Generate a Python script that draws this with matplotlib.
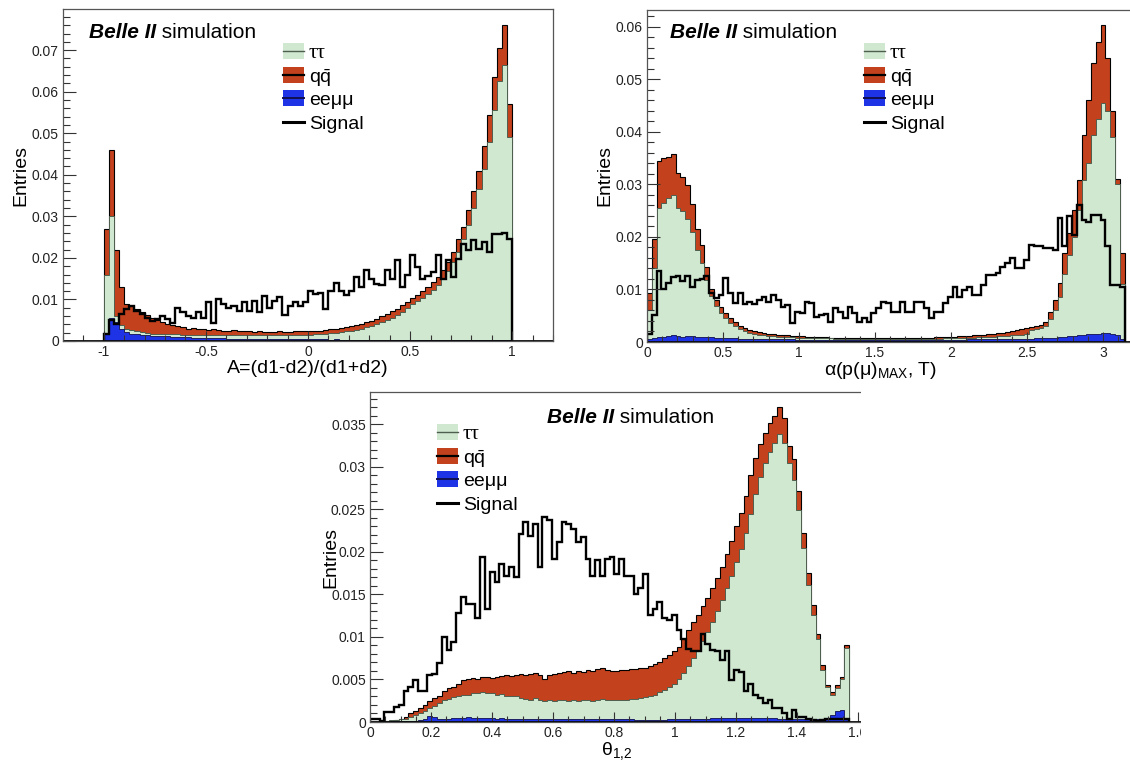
import numpy as np
import matplotlib.pyplot as plt
from matplotlib.patches import Rectangle
from matplotlib.lines import Line2D
from matplotlib.text import Annotation
from matplotlib.ticker import MultipleLocator, FuncFormatter

plt.rcParams['font.family'] = ['Liberation Sans', 'DejaVu Sans']
plt.rcParams['mathtext.fontset'] = 'custom'
plt.rcParams['mathtext.rm'] = 'Liberation Sans'
plt.rcParams['mathtext.it'] = 'Liberation Sans:italic'
plt.rcParams['mathtext.bf'] = 'Liberation Sans:bold'

W, H = 1130, 761

# ---- panel A: A=(d1-d2)/(d1+d2), 80 bins in [-1, 1], values in units of 1e-3 (stacked tops)
a_ee = np.array([2.0, 5.5, 4.5, 3.0, 2.2, 1.8, 1.6, 1.5, 1.4, 1.3,
                 1.2, 1.1, 1.1, 1.0, 1.0, 0.9, 0.9, 0.8, 0.8, 0.8,
                 0.8, 0.7, 0.7, 0.7, 0.6, 0.6, 0.6, 0.6, 0.6, 0.5,
                 0.5, 0.5, 0.5, 0.5, 0.5, 0.5, 0.4, 0.4, 0.4, 0.4,
                 0.4, 0.4, 0.4, 0.4, 0.3, 0.4, 0.3, 0.3, 0.3, 0.3,
                 0.3, 0.3, 0.3, 0.3, 0.3, 0.3, 0.3, 0.3, 0.3, 0.3,
                 0.3, 0.3, 0.3, 0.3, 0.3, 0.3, 0.3, 0.3, 0.3, 0.3,
                 0.3, 0.3, 0.3, 0.3, 0.3, 0.3, 0.3, 0.3, 0.3, 0.2])
a_tautau = np.array([16.0, 30.0, 6.0, 3.8, 3.0, 2.6, 2.3, 2.1, 1.9, 1.8,
                     1.7, 1.7, 1.6, 1.6, 1.6, 1.5, 1.5, 1.5, 1.5, 1.5,
                     1.5, 1.5, 1.5, 1.4, 1.4, 1.4, 1.4, 1.4, 1.4, 1.4,
                     1.4, 1.4, 1.4, 1.4, 1.4, 1.4, 1.4, 1.4, 1.5, 1.5,
                     1.5, 1.6, 1.7, 1.8, 1.9, 2.0, 2.1, 2.3, 2.5, 2.7,
                     3.0, 3.3, 3.6, 4.0, 4.5, 5.0, 5.6, 6.3, 7.0, 7.9,
                     8.8, 9.6, 10.4, 11.3, 12.3, 13.5, 15.0, 16.8, 19.0, 21.5,
                     24.5, 28.0, 32.0, 36.5, 41.5, 48.0, 55.5, 62.5, 66.5, 49.0])
a_total = np.array([27.0, 46.0, 22.0, 12.9, 9.0, 8.5, 7.7, 7.0, 6.2, 5.5,
                    5.0, 4.6, 4.2, 3.9, 3.6, 3.3, 3.0, 3.2, 2.8, 2.8,
                    2.6, 2.9, 2.6, 2.5, 2.4, 2.6, 2.4, 2.3, 2.3, 2.2,
                    2.3, 2.2, 2.2, 2.1, 2.3, 2.2, 2.2, 2.3, 2.4, 2.3,
                    2.4, 2.5, 2.5, 2.7, 2.8, 2.9, 3.1, 3.3, 3.5, 3.8,
                    4.1, 4.5, 4.9, 5.4, 5.9, 6.5, 7.1, 7.8, 8.6, 9.4,
                    10.3, 11.1, 12.0, 13.0, 14.1, 15.4, 17.0, 19.0, 21.5, 24.5,
                    27.5, 31.5, 36.0, 41.0, 47.0, 54.5, 63.5, 70.5, 76.0, 57.0])
a_signal = np.array([1.8, 5.0, 4.2, 6.5, 7.7, 8.5, 7.3, 6.5, 5.6, 4.8,
                     5.2, 6.0, 5.2, 4.4, 8.0, 6.9, 6.0, 5.6, 6.9, 5.6,
                     9.3, 4.4, 10.0, 9.0, 8.0, 8.5, 7.3, 9.3, 7.3, 9.7,
                     6.9, 10.9, 8.0, 9.7, 10.5, 6.2, 8.5, 9.3, 8.5, 9.3,
                     12.0, 11.3, 11.5, 7.7, 12.0, 14.0, 12.0, 11.0, 12.0, 15.3,
                     13.0, 17.0, 15.0, 13.7, 13.5, 17.0, 15.0, 19.4, 13.0, 16.0,
                     20.6, 17.7, 15.0, 15.7, 16.5, 20.6, 15.0, 19.4, 15.3, 19.8,
                     23.4, 21.8, 24.2, 22.2, 23.8, 21.4, 25.8, 25.8, 26.0, 24.6])

# ---- panel B: alpha(p(mu)_MAX, T), 100 bins in [0, pi]
b_ee = np.array([0.5, 0.7, 0.9, 1.0, 1.1, 1.3, 1.1, 1.0, 1.2, 1.1,
                 1.0, 1.0, 0.9, 0.9, 0.8, 0.8, 0.7, 0.7, 0.7, 0.6,
                 0.6, 0.6, 0.6, 0.5, 0.5, 0.5, 0.5, 0.5, 0.5, 0.5,
                 0.5, 0.4, 0.4, 0.4, 0.4, 0.4, 0.4, 0.4, 0.4, 0.4,
                 0.4, 0.4, 0.4, 0.4, 0.4, 0.4, 0.4, 0.4, 0.4, 0.4,
                 0.4, 0.4, 0.4, 0.4, 0.4, 0.4, 0.4, 0.4, 0.4, 0.4,
                 0.4, 0.4, 0.4, 0.4, 0.4, 0.4, 0.4, 0.5, 0.5, 0.5,
                 0.5, 0.5, 0.5, 0.5, 0.5, 0.5, 0.6, 0.6, 0.6, 0.6,
                 0.6, 0.7, 0.7, 0.7, 0.8, 0.8, 0.9, 1.0, 1.1, 1.2,
                 1.3, 1.4, 1.5, 1.6, 1.6, 1.7, 1.7, 1.6, 1.4, 0.6])
b_tautau = np.array([6.0, 14.0, 25.5, 26.5, 27.5, 28.0, 25.5, 25.0, 23.5, 21.0,
                     17.5, 15.0, 11.8, 8.8, 6.8, 5.5, 4.5, 3.6, 3.0, 2.5,
                     2.1, 1.8, 1.6, 1.4, 1.3, 1.2, 1.1, 1.0, 1.0, 0.9,
                     0.9, 0.8, 0.8, 0.8, 0.7, 0.7, 0.7, 0.7, 0.7, 0.6,
                     0.6, 0.6, 0.6, 0.6, 0.6, 0.6, 0.6, 0.6, 0.6, 0.6,
                     0.6, 0.6, 0.6, 0.6, 0.6, 0.6, 0.6, 0.6, 0.6, 0.6,
                     0.6, 0.6, 0.7, 0.7, 0.7, 0.7, 0.8, 0.8, 0.8, 0.9,
                     0.9, 1.0, 1.0, 1.1, 1.1, 1.2, 1.3, 1.3, 1.4, 1.5,
                     2.2, 2.4, 2.6, 3.0, 4.3, 6.0, 8.5, 13.0, 16.5, 20.0,
                     25.1, 30.9, 34.0, 39.5, 42.5, 45.5, 44.0, 39.0, 30.0, 11.0])
b_total = np.array([9.3, 19.7, 34.5, 35.0, 35.2, 35.8, 32.2, 31.5, 29.8, 26.2,
                    21.5, 18.5, 14.2, 10.0, 8.0, 6.6, 5.5, 4.5, 3.8, 3.1,
                    2.6, 2.3, 2.1, 1.9, 1.7, 1.6, 1.5, 1.4, 1.3, 1.3,
                    1.2, 1.1, 1.1, 1.0, 1.0, 0.9, 0.9, 0.9, 0.8, 0.8,
                    0.8, 0.8, 0.8, 0.8, 0.7, 0.7, 0.7, 0.7, 0.7, 0.7,
                    0.7, 0.7, 0.7, 0.7, 0.7, 0.7, 0.8, 0.8, 0.8, 0.8,
                    0.9, 0.9, 0.9, 1.0, 1.0, 1.1, 1.1, 1.2, 1.3, 1.3,
                    1.4, 1.5, 1.6, 1.7, 1.8, 1.9, 2.1, 2.2, 2.4, 2.6,
                    2.9, 3.1, 3.3, 3.8, 5.8, 8.0, 11.2, 17.0, 20.7, 25.1,
                    30.9, 39.4, 46.1, 53.1, 57.2, 60.4, 54.0, 44.0, 31.0, 17.0])
b_signal = np.array([1.5, 5.1, 13.6, 10.1, 11.2, 12.4, 12.6, 11.6, 12.6, 10.5,
                     11.8, 12.0, 12.6, 9.3, 8.4, 9.0, 12.2, 9.3, 7.4, 9.4,
                     7.2, 7.7, 7.2, 8.0, 8.6, 7.7, 9.0, 8.0, 6.7, 7.0,
                     3.6, 5.8, 5.5, 7.7, 7.4, 4.8, 5.1, 5.3, 3.9, 6.4,
                     5.8, 4.5, 6.7, 5.6, 3.9, 4.5, 3.9, 5.6, 6.4, 7.7,
                     7.4, 5.8, 5.8, 7.7, 5.8, 5.8, 7.7, 7.7, 6.4, 4.5,
                     5.8, 5.8, 7.4, 8.6, 10.5, 8.6, 9.9, 10.5, 9.0, 9.0,
                     10.9, 12.8, 12.8, 13.1, 14.3, 15.0, 15.9, 14.0, 14.0, 15.6,
                     18.5, 18.2, 18.2, 17.8, 17.8, 17.5, 23.6, 18.2, 23.9, 20.4,
                     26.1, 23.2, 22.9, 24.2, 24.2, 23.2, 18.2, 10.9, 10.9, 10.5])

# ---- panel C: theta_1,2, 100 bins in [0, pi/2]
c_ee = np.array([0.0, 0.0, 0.0, 0.0, 0.1, 0.1, 0.1, 0.1, 0.1, 0.1,
                 0.2, 0.3, 0.7, 0.6, 0.3, 0.4, 0.4, 0.5, 0.5, 0.5,
                 0.6, 0.5, 0.5, 0.5, 0.5, 0.5, 0.4, 0.5, 0.4, 0.4,
                 0.4, 0.3, 0.3, 0.3, 0.3, 0.3, 0.3, 0.3, 0.3, 0.3,
                 0.3, 0.3, 0.3, 0.3, 0.3, 0.3, 0.3, 0.3, 0.3, 0.3,
                 0.3, 0.3, 0.3, 0.3, 0.3, 0.2, 0.2, 0.2, 0.2, 0.2,
                 0.2, 0.2, 0.3, 0.3, 0.3, 0.3, 0.4, 0.4, 0.4, 0.4,
                 0.4, 0.5, 0.5, 0.5, 0.5, 0.5, 0.5, 0.5, 0.5, 0.5,
                 0.5, 0.5, 0.5, 0.5, 0.5, 0.4, 0.4, 0.4, 0.4, 0.3,
                 0.3, 0.3, 0.3, 0.3, 0.3, 0.4, 0.8, 1.3, 1.4, 0.5])
c_tautau = np.array([0.0, 0.0, 0.0, 0.1, 0.2, 0.2, 0.3, 0.4, 0.6, 0.8,
                     1.0, 1.3, 1.7, 1.9, 2.2, 2.6, 2.7, 2.9, 3.0, 3.2,
                     3.2, 3.4, 3.4, 3.5, 3.4, 3.4, 3.2, 3.3, 3.1, 3.0,
                     3.0, 2.8, 2.7, 2.6, 2.8, 2.6, 2.5, 2.6, 2.5, 2.6,
                     2.6, 2.5, 2.6, 2.5, 2.6, 2.6, 2.5, 2.6, 2.7, 2.6,
                     2.6, 2.6, 2.6, 2.6, 2.7, 2.7, 2.8, 2.9, 3.0, 3.2,
                     3.5, 3.8, 4.1, 4.5, 5.0, 5.8, 6.6, 7.5, 8.5, 9.5,
                     10.6, 11.8, 13.0, 14.3, 15.7, 17.2, 18.8, 20.3, 22.2, 24.5,
                     26.8, 28.8, 30.5, 31.8, 32.8, 33.9, 32.8, 30.5, 28.4, 24.9,
                     20.4, 16.1, 12.6, 9.8, 6.1, 4.1, 3.2, 4.0, 5.0, 8.7])
c_total = np.array([0.0, 0.0, 0.05, 0.1, 0.1, 0.2, 0.4, 0.6, 1.0, 1.3,
                    1.6, 2.0, 2.5, 2.8, 3.1, 3.6, 4.0, 4.1, 4.5, 4.9,
                    5.1, 5.2, 5.0, 5.3, 5.3, 5.2, 5.3, 5.4, 5.5, 5.4,
                    5.5, 5.7, 5.5, 5.6, 5.8, 5.5, 5.0, 5.5, 5.7, 5.8,
                    5.9, 6.0, 5.8, 6.0, 5.9, 6.1, 6.0, 6.2, 6.3, 6.1,
                    6.0, 6.0, 6.1, 6.1, 6.2, 6.2, 6.3, 6.4, 6.6, 6.8,
                    7.1, 7.5, 7.9, 8.3, 8.8, 9.8, 10.8, 11.7, 12.6, 13.6,
                    14.6, 15.7, 16.9, 18.2, 19.7, 21.3, 23.0, 24.6, 26.6, 29.0,
                    31.0, 32.7, 34.0, 35.2, 36.0, 37.0, 35.8, 32.5, 30.9, 27.2,
                    22.2, 17.5, 13.7, 10.4, 6.7, 4.4, 3.5, 4.3, 5.3, 9.1])
c_signal = np.array([0.4, 0.4, 0.1, 1.2, 1.2, 1.8, 2.0, 3.6, 4.1, 4.9,
                     3.6, 3.6, 5.5, 5.7, 6.9, 10.0, 8.5, 9.4, 12.8, 14.7,
                     13.9, 13.9, 12.2, 19.4, 13.3, 17.6, 16.5, 18.6, 17.2, 18.2,
                     17.1, 22.1, 23.5, 21.9, 23.3, 18.2, 24.1, 23.7, 19.2, 21.2,
                     23.5, 23.3, 22.7, 21.2, 21.8, 19.2, 17.2, 19.0, 17.2, 19.2,
                     19.4, 17.4, 19.2, 17.2, 17.2, 15.1, 15.7, 17.4, 12.6, 13.3,
                     14.1, 12.2, 12.0, 12.6, 10.8, 9.8, 8.6, 8.3, 8.3, 10.4,
                     9.2, 8.5, 8.3, 7.3, 8.3, 4.9, 6.1, 5.9, 3.6, 4.5,
                     3.2, 2.8, 2.2, 2.6, 1.6, 1.6, 1.0, 0.4, 1.4, 0.6,
                     0.6, 0.4, 0.2, 0.1, 0.2, 0.4, 0.3, 0.3, 0.4, 0.4])

labels = ['ττ', r'q$\bar{\mathrm{q}}$', 'eeμμ', 'Signal']

GREEN = '#d0e7d0'
RED = '#c3421d'
BLUE = '#1f33e6'
FRAME = '#555555'

fig = plt.figure(figsize=(W / 100, H / 100), dpi=100)


def px_axes(x0, y0, x1, y1):
    return fig.add_axes([x0 / W, 1 - y1 / H, (x1 - x0) / W, (y1 - y0) / H])


def draw_stack(ax, edges, ee, tt, total, sig):
    ax.stairs(total * 1e-3, edges, fill=True, facecolor=RED, edgecolor='black', linewidth=0.8)
    ax.stairs(tt * 1e-3, edges, fill=True, facecolor=GREEN, edgecolor='#4f5f4f', linewidth=0.7)
    ax.stairs(ee * 1e-3, edges, fill=True, facecolor=BLUE, edgecolor='#101050', linewidth=0.6)
    ax.stairs(sig * 1e-3, edges, color='black', linewidth=1.7)
    ax.axhline(0, color='black', lw=2)


def style(ax, xlim, ylim, xmaj, xmin, ymaj, ymin):
    ax.set_xlim(*xlim)
    ax.set_ylim(*ylim)
    ax.xaxis.set_major_locator(MultipleLocator(xmaj))
    ax.xaxis.set_minor_locator(MultipleLocator(xmin))
    ax.yaxis.set_major_locator(MultipleLocator(ymaj))
    ax.yaxis.set_minor_locator(MultipleLocator(ymin))
    fmt = FuncFormatter(lambda v, p: '%g' % round(v, 6))
    ax.xaxis.set_major_formatter(fmt)
    ax.yaxis.set_major_formatter(fmt)
    ax.tick_params(which='both', direction='in', top=False, right=False,
                   color='#333333', labelsize=10, labelcolor='#222222', width=0.8)
    ax.tick_params(axis='y', which='major', length=9.5, pad=3)
    ax.tick_params(axis='y', which='minor', length=5)
    ax.tick_params(axis='x', which='major', length=7.5, pad=3)
    ax.tick_params(axis='x', which='minor', length=4)
    for sp in ax.spines.values():
        sp.set_color(FRAME)
        sp.set_linewidth(0.9)


def belle(x, y):
    t = fig.text(x / W, 1 - y / H, 'Belle II', fontsize=15, fontweight='bold',
                 fontstyle='italic', va='bottom', ha='left')
    fig.add_artist(Annotation(' simulation', xy=(1, 0), xycoords=t,
                              va='bottom', ha='left', fontsize=15))


def legend(x0, y0):
    faces = [GREEN, RED, BLUE, None]
    lines = [('#4f5f4f', 1.0), ('black', 1.6), ('#101050', 1.4), ('black', 2.2)]
    fams = [['Liberation Serif'], None, None, None]
    for i, lab in enumerate(labels):
        yc = y0 + i * 23.7
        if faces[i] is not None:
            fig.add_artist(Rectangle((x0 / W, 1 - (yc + 8) / H), 21 / W, 16 / H,
                                     transform=fig.transFigure, facecolor=faces[i],
                                     edgecolor='none'))
        fig.add_artist(Line2D([x0 / W, (x0 + 21) / W], [1 - yc / H, 1 - yc / H],
                              transform=fig.transFigure, color=lines[i][0], lw=lines[i][1]))
        t = fig.text((x0 + 26) / W, 1 - yc / H, lab, fontsize=14,
                     va='center_baseline', ha='left')
        if fams[i]:
            t.set_family(fams[i])
            t.set_fontsize(15)


# panel A
ax1 = px_axes(63, 9, 553, 341)
draw_stack(ax1, np.linspace(-1, 1, len(a_total) + 1), a_ee, a_tautau, a_total, a_signal)
style(ax1, (-1.2, 1.2), (0, 0.0799), 0.5, 0.1, 0.01, 0.002)
ax1.set_xlabel('A=(d1-d2)/(d1+d2)', fontsize=14)
ax1.xaxis.set_label_coords(0.5, -0.057)
ax1.set_ylabel('Entries', fontsize=14)
ax1.yaxis.set_label_coords(-0.069, 0.5)
belle(89, 42)
legend(283, 51)

# panel B
ax2 = px_axes(647, 10, 647 + 3.3 * 152, 342)
draw_stack(ax2, np.linspace(0, np.pi, len(b_total) + 1), b_ee, b_tautau, b_total, b_signal)
style(ax2, (0, 3.3), (0, 0.0632), 0.5, 0.1, 0.01, 0.002)
ax2.set_xlabel('α(p(μ)$_{\\mathrm{MAX}}$, T)', fontsize=14)
ax2.xaxis.set_label_coords(0.465, -0.053)
ax2.set_ylabel('Entries', fontsize=14)
ax2.yaxis.set_label_coords(-0.068, 0.5)
belle(670, 42)
legend(864, 51)

# panel C
ax3 = px_axes(370, 392, 370 + 1.62 * 305, 722)
draw_stack(ax3, np.linspace(0, np.pi / 2, len(c_total) + 1), c_ee, c_tautau, c_total, c_signal)
style(ax3, (0, 1.62), (0, 0.0388), 0.2, 0.05, 0.005, 0.001)
ax3.set_xlabel('θ$_{1{,}2}$', fontsize=14)
ax3.xaxis.set_label_coords(0.5, -0.056)
ax3.set_ylabel('Entries', fontsize=14)
ax3.yaxis.set_label_coords(-0.061, 0.5)
belle(547, 427)
legend(437, 432)

# the source figure is a cropped composite: mask the cut-off parts
fig.add_artist(Rectangle((861 / W, 0), (W - 861) / W, (H - 381) / H,
                         transform=fig.transFigure, facecolor='white', edgecolor='none', zorder=10))
fig.add_artist(Rectangle((570 / W, 1 - 390 / H), (861 - 570) / W, 9 / H,
                         transform=fig.transFigure, facecolor='white', edgecolor='none', zorder=10))

fig.savefig('out.png', dpi=100)
